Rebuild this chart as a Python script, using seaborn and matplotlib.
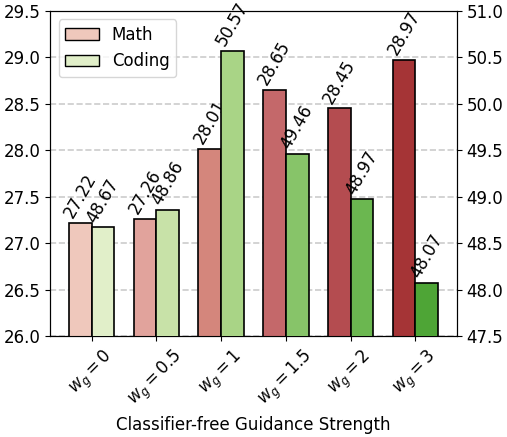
import numpy as np
import matplotlib
matplotlib.use("Agg")
import matplotlib.pyplot as plt
import seaborn as sns
from matplotlib.patches import Patch

sns.set_style("ticks", {'axes.edgecolor': 'black', 'xtick.color': 'black', 'ytick.color': 'black',
                        'text.color': 'black', 'axes.labelcolor': 'black',
                        'xtick.major.size': 3.5, 'ytick.major.size': 3.5})
plt.rcParams['font.family'] = ['DejaVu Sans']
plt.rcParams['font.size'] = 12

# data
strengths = ['0', '0.5', '1', '1.5', '2', '3']
math_scores = [27.22, 27.26, 28.01, 28.65, 28.45, 28.97]
coding_scores = [48.67, 48.86, 50.57, 49.46, 48.97, 48.07]

reds = ['#efc8bc', '#e1a39c', '#d4867c', '#c4686a', '#b44c50', '#a53436']
greens = ['#e1efc9', '#c8e2a8', '#a9d486', '#87c469', '#6bb750', '#4ea536']

x = np.arange(len(strengths))
w = 0.35

fig, ax = plt.subplots(figsize=(5.07, 4.37), dpi=100)
ax2 = ax.twinx()

ax.set_axisbelow(True)
ax.yaxis.grid(True, linestyle='--', color='#cccccc', linewidth=1.2)

b1 = ax.bar(x - w / 2, math_scores, w, color=reds, edgecolor='black', linewidth=1.2, zorder=3)
b2 = ax2.bar(x + w / 2, coding_scores, w, color=greens, edgecolor='black', linewidth=1.2, zorder=3)

for bar, v in zip(b1, math_scores):
    ax.text(bar.get_x() + bar.get_width() / 2, v + 0.02, f'{v:.2f}', rotation=60,
            ha='center', va='bottom', fontsize=12)
for bar, v in zip(b2, coding_scores):
    ax2.text(bar.get_x() + bar.get_width() / 2, v + 0.02, f'{v:.2f}', rotation=60,
             ha='center', va='bottom', fontsize=12)

ax.set_ylim(26.0, 29.5)
ax2.set_ylim(47.5, 51.0)
ax.set_yticks(np.arange(26.0, 29.51, 0.5))
ax2.set_yticks(np.arange(47.5, 51.01, 0.5))
ax.set_yticklabels([f'{t:.1f}' for t in np.arange(26.0, 29.51, 0.5)])
ax2.set_yticklabels([f'{t:.1f}' for t in np.arange(47.5, 51.01, 0.5)])
ax.tick_params(labelsize=12, length=3.5)
ax2.tick_params(labelsize=12, length=3.5)

ax.set_xticks(x)
ax.set_xticklabels([f'$w_g = {s}$' for s in strengths], rotation=45, ha='center', fontsize=12)
ax.set_xlabel('Classifier-free Guidance Strength', fontsize=12)
ax.set_xlim(-0.64, 5.64)

handles = [Patch(facecolor=reds[0], edgecolor='black', label='Math'),
           Patch(facecolor=greens[0], edgecolor='black', label='Coding')]
ax.legend(handles=handles, loc='upper left', fontsize=12)

fig.subplots_adjust(left=0.099, right=0.901, top=0.975, bottom=0.231)
fig.savefig('out.png', dpi=100)
